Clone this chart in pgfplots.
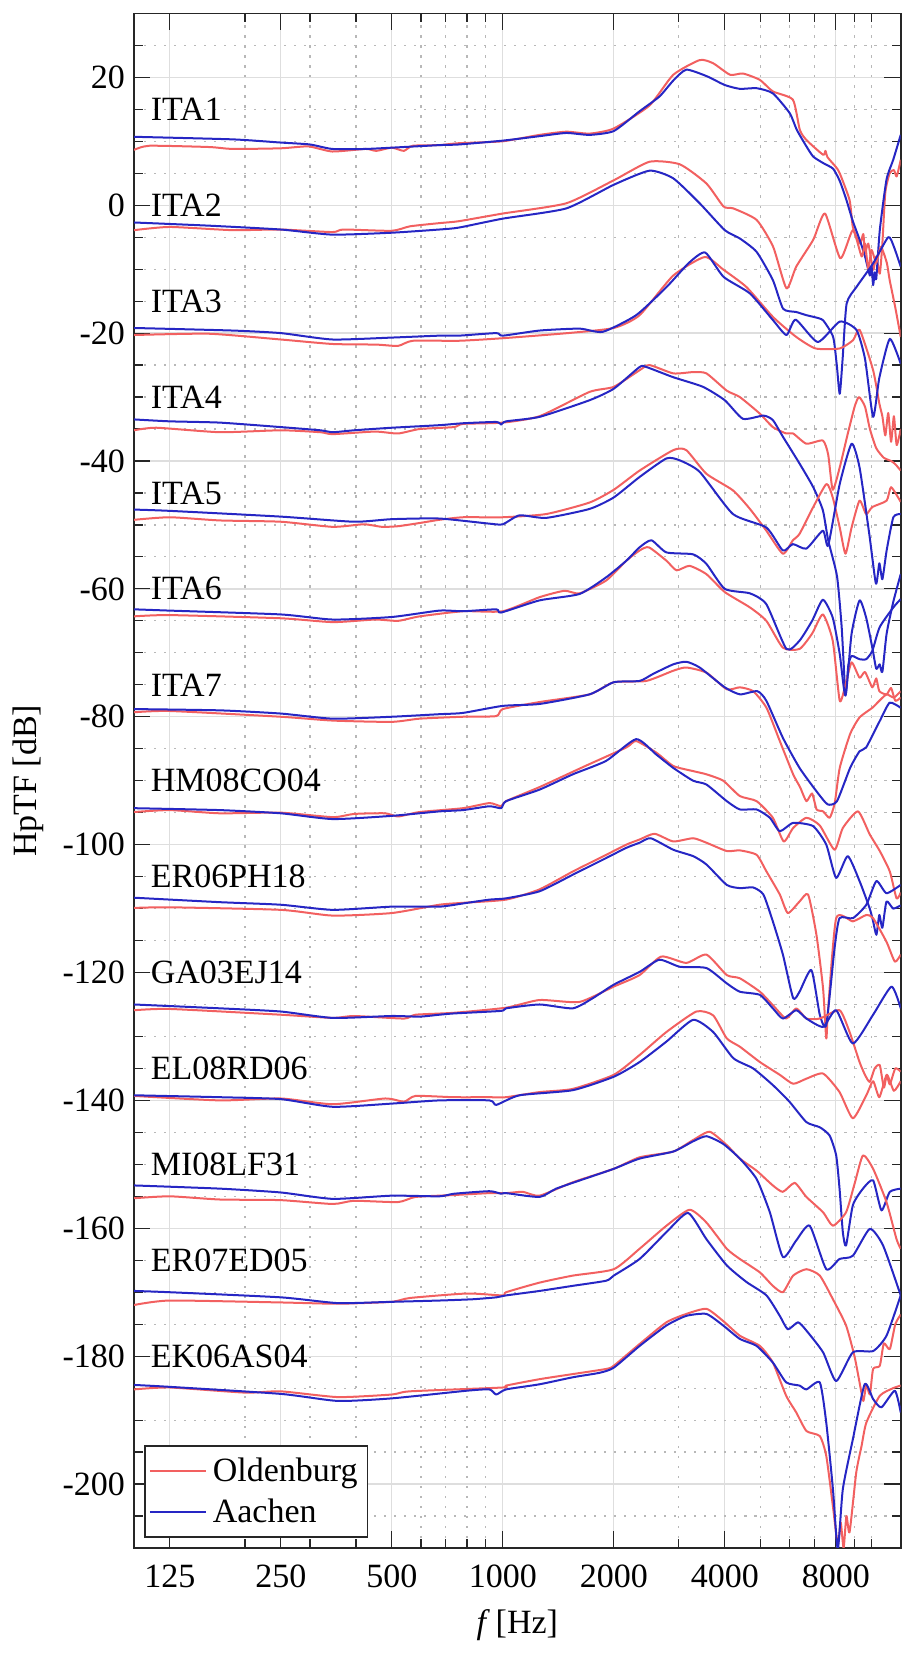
\documentclass[border=0pt]{standalone}
\usepackage{fontspec}
\setmainfont{Liberation Serif}
\usepackage{pgfplots}
\pgfplotsset{compat=1.18}
\definecolor{oldred}{RGB}{242,96,96}
\definecolor{aablue}{RGB}{38,38,196}
\newcommand{\fs}{\fontsize{17}{20}\selectfont}
\pgfplotsset{ob/.style={oldred, line width=1pt, line join=round, smooth, tension=0.35},
             aa/.style={aablue, line width=1pt, line join=round, smooth, tension=0.35}}
\begin{document}
\begin{tikzpicture}
\useasboundingbox (-67pt,-54pt) rectangle (389.8pt,773.9pt);
\begin{axis}[
  at={(0,0)}, anchor=south west,
  scale only axis, width=383.3pt, height=767.2pt,
  xmode=log, xmin=100, xmax=12000, ymin=-210, ymax=30,
  xtick={125,250,500,1000,2000,4000,8000},
  xticklabels={125,250,500,1000,2000,4000,8000},
  minor xtick={100,200,300,400,600,700,800,900,3000,5000,6000,7000,9000,10000},
  ytick={-200,-180,-160,-140,-120,-100,-80,-60,-40,-20,0,20},
  yticklabels={-200,-180,-160,-140,-120,-100,-80,-60,-40,-20,0,20},
  minor ytick={-205,-195,-190,-185,-175,-170,-165,-155,-150,-145,-135,-130,-125,-115,-110,-105,-95,-90,-85,-75,-70,-65,-55,-50,-45,-35,-30,-25,-15,-10,-5,5,10,15,25},
  grid=both,
  major grid style={draw=black!13, line width=0.65pt},
  minor grid style={draw=black!28, line width=0.6pt, dash pattern=on 1.2pt off 3.8pt},
  tick align=inside,
  major tick length=8.3pt, minor tick length=4.5pt,
  every tick/.style={black!85, line width=0.6pt},
  axis line style={black!85, line width=0.8pt},
  tick label style={font=\fs},
  xticklabel style={yshift=-5pt},
  yticklabel style={xshift=-1pt},
  legend style={at={(0,0)}, anchor=south west, xshift=5pt, yshift=5pt,
     draw=black!85, line width=0.8pt, font=\fs, fill=white,
     inner xsep=2pt, inner ysep=4pt, row sep=3pt,
     nodes={inner xsep=3pt, inner ysep=2pt}},
  legend cell align=left,
  legend image code/.code={\draw[#1, smooth=false] (0pt,0pt) -- (28pt,0pt);},
]
% ITA1
\addplot[ob] coordinates {(100,8.65) (110,9.3) (160,9.1) (185,8.8) (250,8.9) (297,9.2) (345,8.4) (425,8.8) (454,8.5) (500,9.0) (539,8.5) (570,9.3) (673,9.4) (760,9.7) (1000,10) (1258,11) (1486,11.5) (1719,11.2) (2000,12) (2500,15.6) (2900,20.4) (3420,22.7) (3720,22.2) (4135,20.4) (4480,20.6) (4980,19.6) (5400,17.8) (6120,16.5) (6390,11.8) (6660,10.2) (7390,7.9) (7500,8.5) (7600,7.5) (8000,6.0) (8200,5) (8720,0.8) (8900,-3.4) (9300,-6) (9500,-4.5) (9600,-7.5) (9800,-6) (10100,-10.1) (10300,-8) (10530,-10.7) (10700,-6) (10900,2) (11200,5) (11500,5.5) (11700,4.5) (12000,7.1)};
\addlegendentry{Oldenburg}
\addplot[aa] coordinates {(100,10.7) (185,10.3) (250,9.8) (300,9.5) (345,8.8) (425,8.8) (500,9.0) (673,9.4) (760,9.5) (1000,10.1) (1258,10.8) (1486,11.3) (1719,11.0) (2000,11.6) (2350,14.7) (2660,17.0) (2900,19.5) (3145,21.2) (3567,20.2) (4000,18.8) (4394,18.2) (4880,18.3) (5400,17.5) (6000,14.4) (6270,11.8) (6660,9.2) (6950,7.6) (7390,6.6) (7870,5.7) (8200,3.8) (8530,1.0) (8900,-2.5) (9300,-5.5) (9600,-8) (9900,-11) (10000,-9.5) (10100,-12.5) (10200,-10.5) (10300,-11.5) (10530,-3.9) (10980,4) (11450,7.1) (12000,11)};
\addlegendentry{Aachen}
% ITA2
\addplot[ob, forget plot] coordinates {(100,-3.9) (125,-3.4) (185,-3.9) (250,-3.8) (345,-4.2) (370,-3.8) (500,-4) (560,-3.3) (673,-2.8) (760,-2.5) (1000,-1.3) (1486,0.3) (2000,3.9) (2500,6.8) (3020,6.4) (3567,3.4) (3970,-0.2) (4220,-0.5) (4880,-2.3) (5410,-6.5) (5880,-13) (6250,-9.6) (6950,-5.4) (7480,-1.3) (8230,-8.3) (8900,-3.9) (9400,-8) (9600,-6) (9800,-10) (10000,-7) (10300,-9) (10600,-6.5) (11000,-9) (11200,-11.7) (11600,-16) (12000,-20.6)};
\addplot[aa, forget plot] coordinates {(100,-2.7) (160,-3.2) (250,-3.8) (345,-4.6) (500,-4.3) (673,-3.8) (760,-3.5) (1000,-2.1) (1486,-0.5) (2000,3.2) (2500,5.4) (2900,4.2) (3420,0.3) (4000,-3.9) (4394,-5.2) (4880,-7.3) (5400,-11.7) (5760,-16.2) (6250,-16.7) (6660,-17.2) (7000,-17.5) (7390,-18) (7870,-20.6) (8050,-25) (8200,-29.5) (8350,-24) (8560,-15.4) (9100,-12.8) (10100,-9.1) (11100,-5) (11500,-6.5) (12000,-9.6)};
% ITA3
\addplot[ob, forget plot] coordinates {(100,-20.3) (160,-20.1) (250,-21) (345,-21.7) (454,-21.8) (520,-22) (570,-21.2) (760,-21.2) (1000,-20.8) (1500,-20) (2000,-19.2) (2350,-17.2) (2900,-11) (3530,-8.1) (3970,-10.1) (4580,-12.8) (5410,-17.5) (6250,-20.6) (7050,-22.4) (8200,-22.4) (8915,-21.1) (9290,-19.5) (10100,-25.8) (10500,-31) (10700,-33) (10900,-36) (11100,-32.5) (11300,-37) (11500,-33) (11700,-37.5) (12000,-35)};
\addplot[aa, forget plot] coordinates {(100,-19.2) (185,-19.6) (250,-20) (345,-21) (500,-20.7) (673,-20.4) (760,-20.4) (960,-20) (1000,-20.4) (1258,-19.6) (1615,-19.3) (1868,-19.8) (2300,-17.2) (2780,-12.8) (3200,-9) (3540,-7.4) (3970,-11.2) (4680,-13.8) (5410,-18) (5880,-20.3) (6230,-17.9) (7150,-21.4) (8200,-18.2) (9100,-19.5) (9600,-24) (10100,-33.1) (10500,-27) (11210,-20.9) (12000,-24.8)};
% ITA4
\addplot[ob, forget plot] coordinates {(100,-35.2) (115,-34.8) (171,-35.5) (250,-35.2) (320,-35.5) (346,-35.8) (450,-35.4) (520,-35.7) (595,-35) (737,-34.7) (780,-34.2) (1000,-34) (1258,-33) (1719,-29.2) (2000,-28.4) (2350,-25.8) (2500,-25) (2900,-26.3) (3280,-26.1) (3567,-26.3) (4050,-29) (4394,-30) (4980,-32.6) (5400,-34.7) (5870,-35.7) (6130,-35.7) (6660,-37.3) (7380,-36.8) (7630,-39) (7850,-44.5) (8200,-41) (8600,-36) (9000,-31.5) (9250,-30) (9600,-31.5) (9900,-35) (10300,-38) (10800,-39.5) (11300,-40) (11600,-40.5) (12000,-41.5)};
\addplot[aa, forget plot] coordinates {(100,-33.5) (125,-33.8) (171,-34) (250,-34.7) (320,-35.2) (346,-35.5) (395,-35.2) (500,-34.8) (673,-34.4) (780,-34.1) (960,-33.9) (990,-34.3) (1021,-33.8) (1258,-33.1) (1719,-30.5) (2000,-28.7) (2350,-25.3) (2450,-25.3) (2900,-26.9) (3490,-28.4) (4000,-30.5) (4480,-33.4) (5090,-32.9) (5400,-33.6) (5750,-36.2) (6380,-40.4) (6950,-44.1) (7380,-47.7) (7630,-52.4) (8060,-58) (8300,-66) (8500,-76.5) (8650,-72) (8830,-70.5) (9280,-71) (9670,-71) (10050,-69.7) (10520,-66) (11460,-62.9) (12000,-61.6)};
% ITA5
\addplot[ob, forget plot] coordinates {(100,-49.2) (125,-48.8) (171,-49.3) (250,-49.5) (346,-50.3) (420,-49.9) (470,-50.3) (520,-50.2) (595,-49.7) (673,-49.2) (780,-48.8) (1000,-48.8) (1311,-48.3) (1719,-46.5) (2000,-44.5) (2350,-41.5) (2900,-38.3) (3145,-38.3) (3567,-42) (4210,-44.6) (4680,-47.5) (5185,-50.9) (5750,-54.5) (6120,-52.4) (6380,-51.4) (6950,-47.2) (7550,-43.6) (7850,-45.7) (8200,-50.4) (8500,-54.5) (8830,-50.4) (9280,-46.2) (9670,-48.3) (10050,-47.2) (10990,-46.2) (11300,-44.1) (12000,-46.4)};
\addplot[aa, forget plot] coordinates {(100,-47.6) (125,-47.8) (250,-48.7) (395,-49.5) (500,-49.1) (673,-49) (920,-49.8) (1000,-49.9) (1110,-48.5) (1311,-48.9) (1719,-47.5) (2000,-45.7) (2350,-42.5) (2779,-39.6) (3020,-39.9) (3420,-41.7) (4210,-48.3) (5185,-50.4) (5750,-54) (6120,-53) (6660,-53.7) (7380,-50.9) (7630,-53.2) (8200,-43.6) (8830,-37.3) (9280,-41) (9860,-51.4) (10280,-59.2) (10500,-56) (10700,-58.5) (10990,-54) (11460,-48.8) (12000,-48.3)};
% ITA6
\addplot[ob, forget plot] coordinates {(100,-64.3) (125,-64.1) (250,-64.6) (346,-65.2) (450,-64.8) (520,-65) (595,-64.3) (780,-63.5) (1000,-63.5) (1258,-61.3) (1470,-60.3) (1615,-60.7) (1907,-58.7) (2163,-55.6) (2350,-54) (2490,-53.5) (2779,-55.6) (2960,-57.1) (3210,-56.4) (3567,-57.7) (4000,-60.5) (4680,-62.9) (5185,-65) (5750,-69.2) (6380,-69.4) (6900,-67) (7380,-64) (7850,-68.1) (8200,-77.5) (8500,-75) (8830,-71.5) (9280,-73.9) (9600,-73) (10050,-75.4) (10300,-74) (10500,-76) (10990,-76.5) (11300,-75.5) (11600,-77.5) (12000,-77)};
\addplot[aa, forget plot] coordinates {(100,-63.2) (125,-63.4) (250,-64) (346,-64.8) (500,-64.4) (673,-63.4) (780,-63.5) (960,-63.2) (990,-63.7) (1258,-61.8) (1615,-60.8) (1907,-58.2) (2163,-55.6) (2350,-53.5) (2530,-52.4) (2779,-54.3) (3282,-54.6) (3567,-56.1) (4000,-60) (4680,-60.7) (5185,-62.4) (5880,-69.4) (6380,-68.1) (6900,-65) (7380,-61.7) (7850,-64.5) (8200,-70.2) (8500,-76.7) (8830,-67) (9280,-61.8) (9670,-64.5) (10050,-69.2) (10300,-72.5) (10520,-71.8) (10700,-73) (10990,-67) (11460,-62) (12000,-57.7)};
% ITA7
\addplot[ob, forget plot] coordinates {(100,-79.3) (125,-79.1) (250,-80) (346,-80.6) (500,-80.8) (595,-80.3) (780,-80) (960,-79.9) (1000,-78.8) (1258,-77.7) (1719,-76.5) (2000,-74.6) (2450,-74.4) (2900,-72.8) (3145,-72.3) (3567,-73.1) (4050,-75.7) (4394,-75.4) (4775,-76) (5190,-78.6) (5640,-83.8) (6130,-89) (6400,-91) (6660,-93.2) (6900,-92) (7100,-94.5) (7390,-94.8) (7700,-95.8) (7950,-93.5) (8200,-88) (8750,-82.7) (9280,-80.1) (10050,-78.6) (10500,-77.5) (10990,-76.5) (11500,-77) (12000,-76)};
\addplot[aa, forget plot] coordinates {(100,-78.8) (171,-79) (250,-79.5) (346,-80.3) (500,-80) (673,-79.6) (780,-79.4) (1000,-78.3) (1258,-78) (1719,-76.5) (2000,-74.6) (2350,-74.4) (2556,-73.3) (2900,-71.8) (3145,-71.4) (3420,-72.3) (4000,-75.4) (4400,-76.5) (4900,-76) (5185,-77.5) (5750,-83.3) (6380,-88) (7080,-91.6) (7600,-93.7) (8060,-93.2) (8750,-88) (9280,-85.4) (9670,-84.8) (10520,-80.7) (11200,-77.8) (12000,-78.6)};
% HM08CO04
\addplot[ob, forget plot] coordinates {(100,-94.9) (125,-94.6) (171,-95.1) (250,-95) (346,-95.7) (395,-95.2) (480,-95.1) (520,-95.6) (595,-94.9) (780,-94.3) (920,-93.5) (990,-94) (1021,-93.2) (1258,-91) (1549,-88.6) (1719,-87.4) (2163,-84.8) (2300,-83.8) (2607,-85.6) (2900,-87.7) (3282,-88.5) (3567,-89) (3960,-90) (4394,-92.4) (4880,-93.2) (5400,-95.8) (5780,-99.5) (6130,-97.4) (6660,-95.8) (7240,-97) (7940,-100.8) (8360,-97.4) (9190,-94.8) (9890,-98.4) (10530,-101) (11210,-104.2) (11690,-108.4) (12000,-107.5)};
\addplot[aa, forget plot] coordinates {(100,-94.3) (171,-94.6) (250,-95.1) (346,-96) (500,-95.5) (673,-94.8) (780,-94.6) (920,-94) (990,-94.3) (1021,-93.2) (1258,-91.4) (1549,-89) (1907,-86.9) (2300,-83.5) (2607,-85.9) (2900,-88) (3282,-90) (3567,-90.6) (4050,-93.2) (4394,-94.5) (4880,-94.5) (5300,-95.8) (5640,-97.9) (6130,-96.6) (6940,-97.1) (7540,-100) (8020,-105.2) (8620,-101.8) (9280,-105.7) (9890,-110) (10100,-112) (10310,-114.1) (10500,-111) (10700,-113) (10980,-108.9) (11450,-110) (12000,-109.5)};
% ER06PH18
\addplot[ob, forget plot] coordinates {(100,-109.9) (125,-109.8) (250,-110.2) (346,-111.1) (500,-110.7) (673,-109.4) (780,-109.1) (1021,-108.6) (1258,-107) (1549,-104.2) (1907,-101.6) (2163,-100) (2350,-99.2) (2580,-98.3) (2900,-99.5) (3282,-99) (3567,-99.7) (4050,-101) (4394,-100.9) (4880,-101.6) (5190,-104.2) (5640,-107.8) (5930,-110.7) (6380,-108.9) (6730,-107.8) (7090,-114.1) (7390,-122.5) (7540,-130.3) (7620,-126) (8020,-111.5) (8900,-112) (9680,-111) (10100,-111.5) (10980,-115.2) (11570,-118.3) (12000,-117.2)};
\addplot[aa, forget plot] coordinates {(100,-108.3) (171,-109) (250,-109.4) (346,-110.2) (500,-109.7) (673,-109.7) (780,-109.2) (920,-108.6) (1021,-108.4) (1258,-107.3) (1549,-104.7) (1907,-102.1) (2163,-100.5) (2350,-99.7) (2520,-99) (2900,-100.8) (3282,-101.8) (3567,-103.1) (4050,-106.3) (4394,-106.8) (4775,-106.7) (5090,-107.8) (5400,-112) (5750,-117.2) (6130,-124) (6380,-123) (6870,-119.6) (7240,-126.6) (7540,-128.2) (7940,-116.2) (8190,-111.5) (8900,-111.5) (9680,-109.4) (10310,-105.7) (10980,-107.6) (12000,-106.3)};
% GA03EJ14
\addplot[ob, forget plot] coordinates {(100,-125.9) (125,-125.7) (250,-126.6) (346,-127.1) (395,-126.8) (540,-127.2) (580,-126.6) (737,-126.3) (1021,-125.5) (1258,-124.3) (1615,-124.6) (2000,-122.2) (2350,-120.4) (2690,-117.5) (3145,-118.5) (3567,-117.2) (4050,-120.4) (4394,-120.9) (4980,-123) (5400,-125.1) (5870,-127.2) (6250,-125.6) (6660,-127.2) (7240,-127.2) (8190,-125.9) (8720,-129.3) (9280,-134) (9600,-136) (9890,-137.1) (10200,-135) (10530,-134.5) (10800,-138) (11000,-136) (11210,-137.5) (11600,-135) (12000,-135.5)};
\addplot[aa, forget plot] coordinates {(100,-125) (171,-125.6) (250,-126.1) (346,-127.1) (500,-126.8) (595,-126.9) (673,-126.6) (737,-126.4) (990,-126) (1021,-125.6) (1258,-125) (1549,-125.6) (1756,-124) (2000,-121.9) (2350,-119.9) (2660,-118) (3020,-119.1) (3567,-119.3) (4050,-121.7) (4394,-123) (4980,-123.5) (5400,-125.6) (5750,-127.2) (6250,-125.9) (6660,-127.2) (7390,-128.5) (8020,-125.9) (8900,-131.1) (10100,-126.6) (11330,-122.2) (12000,-125.6)};
% EL08RD06
\addplot[ob, forget plot] coordinates {(100,-139.3) (171,-140) (250,-139.7) (346,-140.6) (480,-139.7) (540,-140.2) (580,-139.3) (737,-139.5) (920,-139.5) (1021,-139.5) (1258,-138.7) (1549,-138.2) (2000,-136) (2350,-132.9) (2779,-129.3) (3350,-126.1) (3720,-126.7) (4050,-130.3) (4394,-131.6) (4980,-134) (5640,-136) (6130,-137.4) (6660,-136.6) (7390,-135.8) (8190,-138.7) (8900,-142.8) (9680,-139.2) (10100,-137) (10500,-139.5) (11000,-136) (11500,-138.5) (12000,-137)};
\addplot[aa, forget plot] coordinates {(100,-139.2) (171,-139.5) (250,-139.8) (346,-141) (500,-140.5) (673,-140) (920,-140) (960,-140.7) (1110,-139.2) (1549,-138.4) (2000,-136.3) (2350,-134) (2779,-130.8) (3282,-127.4) (3720,-129.3) (4220,-133.4) (4775,-135) (5400,-137.6) (5990,-140.2) (6660,-143.4) (7240,-144.2) (7700,-145.5) (8020,-148.6) (8190,-153.8) (8360,-160.6) (8530,-162.7) (8900,-156.4) (9480,-153.8) (10100,-152.5) (10640,-157.2) (11210,-154.3) (12000,-153.8)};
% MI08LF31
\addplot[ob, forget plot] coordinates {(100,-155.3) (125,-155) (171,-155.5) (250,-155.6) (346,-156.2) (395,-155.7) (520,-155.9) (580,-155.1) (737,-154.8) (920,-154.5) (1021,-154.5) (1133,-154.3) (1258,-154.9) (1549,-152.8) (2000,-150.7) (2350,-148.9) (2900,-148) (3282,-146.2) (3640,-144.9) (4050,-147) (4394,-149.1) (4880,-151) (5400,-153.3) (5750,-154.3) (6190,-152.9) (6660,-155.1) (7390,-157.5) (7860,-159.6) (8530,-157.5) (9000,-153) (9480,-148.6) (10100,-150.7) (10980,-155.9) (11690,-161.7) (12000,-163.2)};
\addplot[aa, forget plot] coordinates {(100,-153.3) (171,-153.8) (250,-154.4) (346,-155.4) (500,-154.9) (673,-155) (737,-154.6) (920,-154.2) (990,-154.6) (1021,-154.5) (1258,-155.1) (1396,-153.8) (1719,-152) (2000,-150.7) (2350,-149.1) (2900,-148) (3282,-146.4) (3567,-145.6) (3960,-146.8) (4394,-149.1) (4880,-152.3) (5300,-157.5) (5750,-164.5) (6250,-161.9) (6800,-159.6) (7540,-166.4) (8190,-164.8) (8900,-164.3) (9890,-160.1) (10750,-162.7) (12000,-170.5)};
% ER07ED05
\addplot[ob, forget plot] coordinates {(100,-172) (125,-171.3) (250,-171.6) (357,-171.8) (500,-171.5) (560,-170.9) (800,-170.2) (1000,-170.5) (1021,-170) (1258,-168.5) (1549,-167.4) (2000,-166.4) (2350,-163.2) (2779,-159.6) (3210,-157.1) (3567,-159.1) (4050,-163.2) (4394,-164.8) (4980,-166.9) (5400,-169) (5750,-170) (6130,-167.4) (6660,-166.4) (7240,-167.4) (7860,-171.1) (8530,-175.2) (8990,-180) (9280,-184.1) (9500,-187) (9680,-184.5) (9900,-186) (10100,-182) (10530,-181.5) (10800,-178) (11210,-178.9) (11600,-175) (12000,-173.5)};
\addplot[aa, forget plot] coordinates {(100,-169.8) (125,-170) (250,-170.8) (357,-171.7) (500,-171.5) (673,-171.3) (829,-171.1) (960,-170.8) (1021,-170.5) (1258,-169.8) (1549,-169) (1907,-168.2) (2000,-167.4) (2350,-164.8) (2779,-160.6) (3180,-157.6) (3567,-161.7) (4050,-165.8) (4580,-168.4) (5190,-170.5) (5640,-173.7) (5930,-175.8) (6320,-174.7) (6660,-176) (7390,-179.4) (8020,-183.9) (8900,-179.4) (10100,-179.2) (10980,-176.8) (12000,-170.5)};
% EK06AS04
\addplot[ob, forget plot] coordinates {(100,-185.2) (125,-184.9) (200,-185.7) (250,-185.5) (357,-186.4) (500,-186) (560,-185.5) (1000,-184.9) (1021,-184.6) (1258,-183.6) (1549,-182.8) (1907,-182) (2000,-181.5) (2350,-178.1) (2779,-174.7) (3145,-173.4) (3567,-172.6) (3960,-174.5) (4394,-176.8) (4980,-178.4) (5400,-181) (5870,-186.2) (6250,-188.8) (6660,-191.7) (7240,-192.5) (7540,-195.6) (7860,-203.5) (8100,-209.5) (8250,-206) (8400,-210) (8550,-205) (8720,-207.5) (9090,-198.2) (9400,-194) (9680,-190.4) (10530,-186.2) (11450,-185) (12000,-184.6)};
\addplot[aa, forget plot] coordinates {(100,-184.5) (125,-184.8) (250,-185.9) (357,-187) (500,-186.6) (800,-185.4) (920,-185.2) (960,-186) (1021,-185.2) (1258,-184.4) (1549,-183.3) (1831,-182.6) (2000,-181.8) (2350,-178.4) (2779,-175.2) (3145,-173.7) (3567,-173.4) (3960,-175.2) (4394,-177.3) (4880,-178.4) (5400,-181) (5870,-184.1) (6380,-184.6) (6660,-185.2) (7240,-184.1) (7540,-190.4) (7860,-200.8) (8100,-210.2) (8360,-200.8) (8900,-193) (9580,-184.4) (10100,-186.7) (10640,-188) (11570,-185.4) (12000,-188.8)};
% labels
\foreach \lab [count=\i from 0] in {ITA1,ITA2,ITA3,ITA4,ITA5,ITA6,ITA7,HM08CO04,ER06PH18,GA03EJ14,EL08RD06,MI08LF31,ER07ED05,EK06AS04} {
  \pgfmathsetmacro{\yy}{15-15*\i}
  \edef\temp{\noexpand\node[anchor=west, inner sep=0pt, xshift=8.2pt, font=\noexpand\fs] at (axis cs:100,\yy) {\lab};}
  \temp
}
\end{axis}
\node[rotate=90, font=\fs] at (-53pt,383.6pt) {HpTF [dB]};
\node[font=\fs] at (191.65pt,-38.5pt) {\textit{f}\,[Hz]};
\end{tikzpicture}
\end{document}
